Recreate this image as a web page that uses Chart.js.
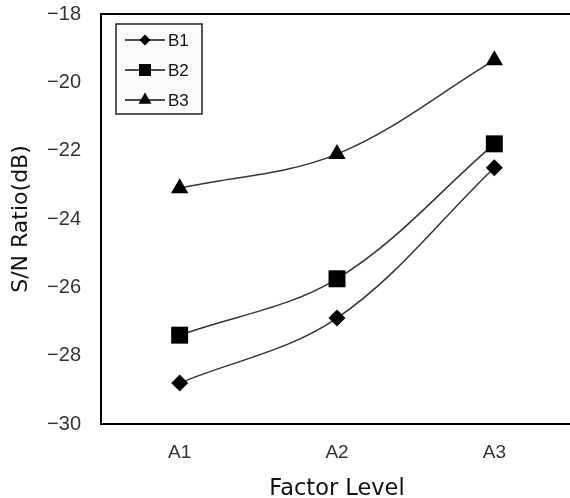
<!DOCTYPE html>
<html>
<head>
<meta charset="utf-8">
<script src="https://cdn.jsdelivr.net/npm/chart.js@4"></script>
<style>
  html, body { margin: 0; padding: 0; background: #fff; overflow: hidden; }
  #wrap { width: 570px; height: 498px; overflow: hidden; }
</style>
</head>
<body>
<div id="wrap"><canvas id="chart" width="585" height="498"></canvas></div>
<script>
// values
const levels = ['A1', 'A2', 'A3'];
const b1 = [-28.8, -26.9, -22.5];
const b2 = [-27.4, -25.75, -21.8];
const b3 = [-23.1, -22.1, -19.35];
const yTicks = [-30, -28, -26, -24, -22, -20, -18];

const tickFam = '"Liberation Sans", Arial, sans-serif';
const titleFam = '"DejaVu Sans", sans-serif';

// frame round the plot area (right side falls outside the picture)
const frame = {
  id: 'frame',
  afterDatasetsDraw(chart) {
    const { ctx, chartArea: a } = chart;
    ctx.save();
    ctx.strokeStyle = '#000';
    ctx.lineWidth = 2;
    ctx.strokeRect(a.left, a.top, a.right - a.left, a.bottom - a.top);
    ctx.restore();
  }
};

// boxed legend in the upper left corner of the plot
const boxLegend = {
  id: 'boxLegend',
  afterDraw(chart) {
    const ctx = chart.ctx;
    const x0 = 116, y0 = 24, w = 86, h = 90;
    ctx.save();
    ctx.fillStyle = '#fbfbfb';
    ctx.fillRect(x0, y0, w, h);
    ctx.strokeStyle = '#222';
    ctx.lineWidth = 1.5;
    ctx.strokeRect(x0, y0, w, h);
    chart.data.datasets.forEach((ds, i) => {
      const y = y0 + 16 + i * 30;
      ctx.strokeStyle = '#111';
      ctx.lineWidth = 1.3;
      ctx.beginPath();
      ctx.moveTo(125, y);
      ctx.lineTo(165, y);
      ctx.stroke();
      ctx.fillStyle = '#000';
      ctx.strokeStyle = '#000';
      Chart.helpers.drawPoint(ctx, {
        pointStyle: ds.pointStyle, radius: ds.legendRadius, rotation: 0, borderWidth: 0
      }, 145, y);
      ctx.fillStyle = '#111';
      ctx.font = '17px ' + tickFam;
      ctx.textAlign = 'left';
      ctx.textBaseline = 'middle';
      ctx.fillText(ds.label, 168, y + 1);
    });
    ctx.restore();
  }
};

const common = {
  borderColor: '#333',
  borderWidth: 1.5,
  pointBackgroundColor: '#000',
  pointBorderColor: '#000',
  pointBorderWidth: 0,
  tension: 0.35,
  fill: false
};

new Chart(document.getElementById('chart'), {
  type: 'line',
  data: {
    labels: levels,
    datasets: [
      { ...common, label: 'B1', data: b1, pointStyle: 'rectRot', pointRadius: 8.5, legendRadius: 5.5 },
      { ...common, label: 'B2', data: b2, pointStyle: 'rect', pointRadius: 12, legendRadius: 8.5 },
      { ...common, label: 'B3', data: b3, pointStyle: 'triangle', pointRadius: 10, legendRadius: 7.5 }
    ]
  },
  options: {
    responsive: false,
    animation: false,
    layout: { padding: 0 },
    scales: {
      x: {
        offset: true,
        grid: { display: false, drawTicks: false },
        border: { display: false },
        ticks: { color: '#333', font: { family: tickFam, size: 19 }, padding: 17 },
        title: {
          display: true, text: 'Factor Level', color: '#111',
          font: { family: titleFam, size: 22.5, lineHeight: 1 }, padding: { top: 0, bottom: -2 }
        },
        afterFit(scale) {
          scale.height = 74;
          scale.paddingLeft = 0;
          scale.paddingRight = 0;
        }
      },
      y: {
        min: -30,
        max: -18,
        afterBuildTicks(scale) { scale.ticks = yTicks.map(v => ({ value: v })); },
        grid: { display: false, drawTicks: false },
        border: { display: false },
        ticks: {
          color: '#333', font: { family: tickFam, size: 20 }, padding: 20,
          callback: v => String(v).replace('-', '\u2212')
        },
        title: {
          display: true, text: 'S/N Ratio(dB)', color: '#111',
          font: { family: titleFam, size: 22, lineHeight: 1 }, padding: { top: 10, bottom: 0 }
        },
        afterFit(scale) {
          scale.width = 101;
          scale.paddingTop = 14;
          scale.paddingBottom = 0;
        }
      }
    },
    plugins: {
      legend: { display: false },
      tooltip: { enabled: false }
    }
  },
  plugins: [frame, boxLegend]
});
</script>
</body>
</html>
